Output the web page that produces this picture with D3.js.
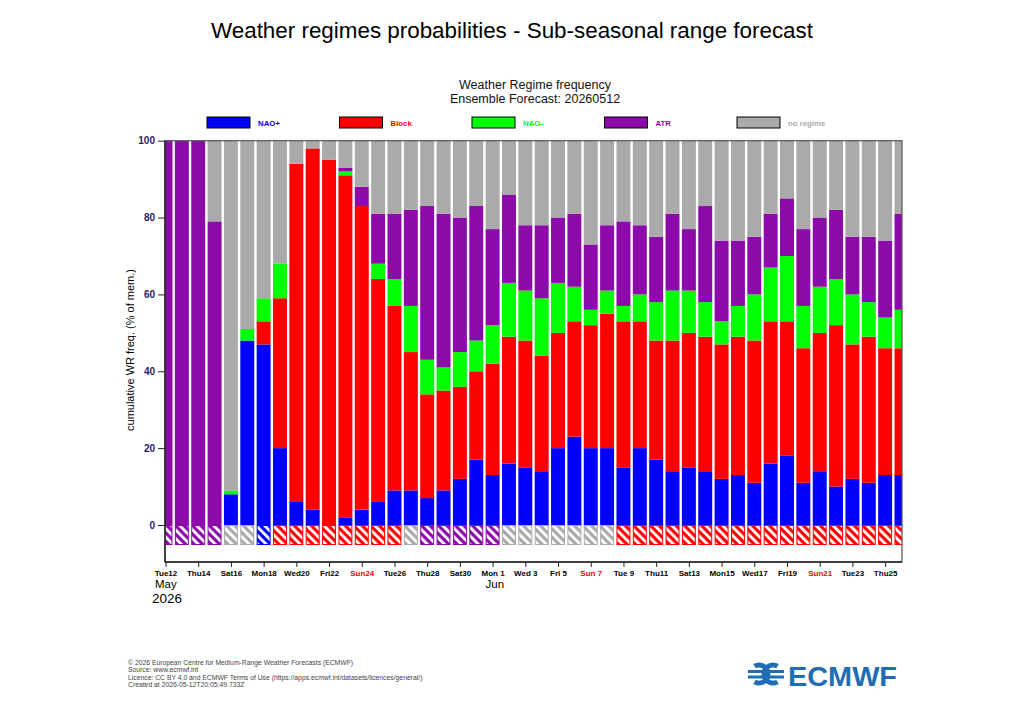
<!DOCTYPE html>
<html>
<head>
<meta charset="utf-8">
<script src="https://cdn.jsdelivr.net/npm/d3@7"></script>
<style>
  body { margin: 0; background: #fff; }
  svg { display: block; font-family: "Liberation Sans", Arial, sans-serif; }
</style>
</head>
<body>
<svg id="chart" width="1024" height="720"></svg>
<script>
// --- data (% of ensemble members per day, 12 May -> 26 Jun 2026) ---
const startDate = new Date(Date.UTC(2026, 4, 12));
const nDays = 46;

const naoPlus  = [0,0,0,0,8,48,47,20,6,4, 0,2,4,6,9,9,7,9,12,17, 13,16,15,14,20,23,20,20,15,20, 17,14,15,14,12,13,11,16,18,11, 14,10,12,11,13,13];
const block    = [0,0,0,0,0,0,6,39,88,94, 95,89,79,58,48,36,27,26,24,23, 29,33,33,30,30,30,32,35,38,33, 31,34,35,35,35,36,37,37,35,35, 36,42,35,38,33,33];
const naoMinus = [0,0,0,0,1,3,6,9,0,0, 0,1,0,4,7,12,9,6,9,8, 10,14,13,15,13,9,4,6,4,7, 10,13,11,9,6,8,12,14,17,11, 12,12,13,9,8,10];
const atr      = [100,100,100,79,0,0,0,0,0,0, 0,1,5,13,17,25,40,40,35,35, 25,23,17,19,17,19,17,17,22,18, 17,20,16,25,21,17,15,14,15,20, 18,18,15,17,20,25];
const noRegime = [0,0,0,21,91,49,41,32,6,2, 5,7,12,19,19,18,17,19,20,17, 23,14,22,22,20,19,27,22,21,22, 25,19,23,17,26,26,25,19,15,23, 20,18,25,25,26,19];

// dominant regime of each day (hatched strip under the bars)
const dominant = [
  "ATR","ATR","ATR","ATR","no regime","no regime","NAO+",
  "Block","Block","Block","Block","Block","Block","Block","Block",
  "no regime","ATR","ATR","ATR","ATR","ATR",
  "no regime","no regime","no regime","no regime","no regime","no regime","no regime",
  "Block","Block","Block","Block","Block","Block","Block","Block","Block",
  "Block","Block","Block","Block","Block","Block","Block","Block","Block"
];

const regimes = ["NAO+", "Block", "NAO-", "ATR", "no regime"];
const regimeColors = ["#0000ff", "#ff0000", "#00ff00", "#8b0aa9", "#aaaaaa"];
const legendLabels = ["NAO+", "Block", "NAO-", "ATR", "no regime"];

const tickLabels = ["Tue12","Thu14","Sat16","Mon18","Wed20","Fri22","Sun24","Tue26","Thu28","Sat30",
  "Mon 1","Wed 3","Fri 5","Sun 7","Tue 9","Thu11","Sat13","Mon15","Wed17","Fri19","Sun21","Tue23","Thu25"];
const yTicks = [0, 20, 40, 60, 80, 100];

const footerLines = [
  "\u00a9 2026 European Centre for Medium-Range Weather Forecasts (ECMWF)",
  "Source: www.ecmwf.int",
  "Licence: CC BY 4.0 and ECMWF Terms of Use (https://apps.ecmwf.int/datasets/licences/general/)",
  "Created at 2026-05-12T20:05:49.733Z"
];

// --- build table ---
const dates = d3.range(nDays).map(i => d3.utcDay.offset(startDate, i));
const rows = dates.map((d, i) => ({
  date: d,
  "NAO+": naoPlus[i],
  "Block": block[i],
  "NAO-": naoMinus[i],
  "ATR": atr[i],
  "no regime": noRegime[i],
  dominant: dominant[i]
}));

const color = d3.scaleOrdinal().domain(regimes).range(regimeColors);

const svg = d3.select("#chart");
const plotL = 165, plotR = 902, plotT = 140.7, plotB = 562;

const x = d3.scaleUtc()
  .domain([dates[0], dates[nDays - 1]])
  .range([165.5, 901.5]);
const y = d3.scaleLinear()
  .domain([0, 100])
  .range([525, plotT]);

const step = x(dates[1]) - x(dates[0]);
const barW = step - 2.4;

// --- titles ---
svg.append("text")
  .attr("x", 512).attr("y", 38)
  .attr("text-anchor", "middle")
  .attr("font-size", 22.4)
  .text("Weather regimes probabilities - Sub-seasonal range forecast");

svg.append("text")
  .attr("x", 535).attr("y", 89)
  .attr("text-anchor", "middle")
  .attr("font-size", 12.5)
  .attr("fill", "#111")
  .text("Weather Regime frequency");
svg.append("text")
  .attr("x", 535).attr("y", 103)
  .attr("text-anchor", "middle")
  .attr("font-size", 12.5)
  .attr("fill", "#111")
  .text("Ensemble Forecast: 20260512");

// --- legend ---
const legend = svg.append("g").selectAll("g")
  .data(regimes)
  .join("g")
  .attr("transform", (d, i) => `translate(${207 + i * 132.5},117)`);
legend.append("rect")
  .attr("width", 43).attr("height", 11)
  .attr("fill", d => color(d))
  .attr("stroke", "#000").attr("stroke-width", 1);
legend.append("text")
  .attr("x", 51).attr("y", 8.5)
  .attr("font-size", 7.8)
  .attr("font-weight", "bold")
  .attr("fill", d => color(d))
  .text((d, i) => legendLabels[i]);

// --- hatch patterns for the dominant-regime strip ---
const defs = svg.append("defs");
regimes.forEach((r, i) => {
  const p = defs.append("pattern")
    .attr("id", "hatch" + i)
    .attr("patternUnits", "userSpaceOnUse")
    .attr("width", 6).attr("height", 6)
    .attr("patternTransform", "rotate(-45)");
  p.append("rect").attr("width", 6).attr("height", 6).attr("fill", color(r));
  p.append("rect").attr("x", 0).attr("width", 2.8).attr("height", 6).attr("fill", "#fff");
});

defs.append("clipPath").attr("id", "plotClip")
  .append("rect")
  .attr("x", plotL).attr("y", plotT - 1)
  .attr("width", plotR - plotL).attr("height", plotB - plotT + 1);

// --- stacked bars ---
const series = d3.stack().keys(regimes)(rows);

const plot = svg.append("g").attr("clip-path", "url(#plotClip)");

plot.selectAll("g.layer")
  .data(series)
  .join("g")
  .attr("class", "layer")
  .attr("fill", d => color(d.key))
  .selectAll("rect")
  .data(d => d.filter(s => s[1] - s[0] > 0))
  .join("rect")
  .attr("x", d => x(d.data.date) - barW / 2)
  .attr("y", d => y(d[1]))
  .attr("width", barW)
  .attr("height", d => y(d[0]) - y(d[1]));

// strip
plot.selectAll("rect.strip")
  .data(rows)
  .join("rect")
  .attr("class", "strip")
  .attr("x", d => x(d.date) - barW / 2 + 0.5)
  .attr("y", 525.5)
  .attr("width", barW - 1)
  .attr("height", 19)
  .attr("fill", d => `url(#hatch${regimes.indexOf(d.dominant)})`)
  .attr("stroke", d => color(d.dominant))
  .attr("stroke-width", 1);

// --- frame ---
svg.append("rect")
  .attr("x", plotL).attr("y", plotT)
  .attr("width", plotR - plotL).attr("height", plotB - plotT)
  .attr("fill", "none")
  .attr("stroke", "#555").attr("stroke-width", 1.2);
svg.append("line")
  .attr("x1", plotL).attr("x2", plotL)
  .attr("y1", plotT).attr("y2", plotB)
  .attr("stroke", "#222").attr("stroke-width", 1.5);
svg.append("line")
  .attr("x1", plotL).attr("x2", plotR)
  .attr("y1", plotB).attr("y2", plotB)
  .attr("stroke", "#222").attr("stroke-width", 1.5);

// --- axes ---
const yAxis = svg.append("g")
  .attr("transform", `translate(${plotL},0)`)
  .call(d3.axisLeft(y).tickValues(yTicks).tickSize(7).tickPadding(3));
yAxis.select(".domain").remove();
yAxis.selectAll("line").attr("stroke", "#222");
yAxis.selectAll("text")
  .attr("font-family", "Liberation Sans, Arial, sans-serif")
  .attr("font-size", 10)
  .attr("font-weight", "bold")
  .attr("fill", "#1c1c78");

const tickDates = dates.filter((d, i) => i % 2 === 0).slice(0, tickLabels.length);
const xAxis = svg.append("g")
  .attr("transform", `translate(0,${plotB})`)
  .call(d3.axisBottom(x).tickValues(tickDates).tickSize(5).tickPadding(3)
    .tickFormat((d, i) => tickLabels[i]));
xAxis.select(".domain").remove();
xAxis.selectAll("line").attr("stroke", "#222");
xAxis.selectAll("text")
  .attr("font-family", "Liberation Sans, Arial, sans-serif")
  .attr("font-size", 8)
  .attr("font-weight", "bold")
  .attr("fill", d => d.getUTCDay() === 0 ? "#ff0000" : "#000");

svg.append("text").attr("x", 155).attr("y", 588).attr("font-size", 11.5).text("May");
svg.append("text").attr("x", x(d3.utcDay.offset(startDate, 20)) - 7).attr("y", 588).attr("font-size", 11.5).text("Jun");
svg.append("text").attr("x", 152).attr("y", 603).attr("font-size", 13.5).text("2026");

svg.append("text")
  .attr("transform", "translate(134,350) rotate(-90)")
  .attr("text-anchor", "middle")
  .attr("font-size", 11)
  .text("cumulative WR freq. (% of mem.)");

// --- footer ---
svg.append("g").selectAll("text")
  .data(footerLines)
  .join("text")
  .attr("x", 128)
  .attr("y", (d, i) => 665 + i * 7.4)
  .attr("font-size", 6.8)
  .attr("fill", "#444")
  .text(d => d);

// --- ECMWF logo ---
const logo = svg.append("g").attr("fill", "#1f6db5").attr("stroke", "#1f6db5");
logo.append("path")
  .attr("d", "M754.5,666.2 A9,9 0 1,1 754.5,681.8")
  .attr("fill", "none").attr("stroke-width", 5);
logo.append("path")
  .attr("d", "M777.5,666.2 A9,9 0 1,0 777.5,681.8")
  .attr("fill", "none").attr("stroke-width", 5);
logo.append("rect").attr("x", 748).attr("y", 670).attr("width", 36).attr("height", 3).attr("stroke", "none");
logo.append("rect").attr("x", 748).attr("y", 675.5).attr("width", 36).attr("height", 3).attr("stroke", "none");
logo.append("text")
  .attr("x", 788).attr("y", 686)
  .attr("stroke", "none")
  .attr("font-size", 27)
  .attr("font-weight", "bold")
  .attr("textLength", 109)
  .attr("lengthAdjust", "spacingAndGlyphs")
  .text("ECMWF");
</script>
</body>
</html>
